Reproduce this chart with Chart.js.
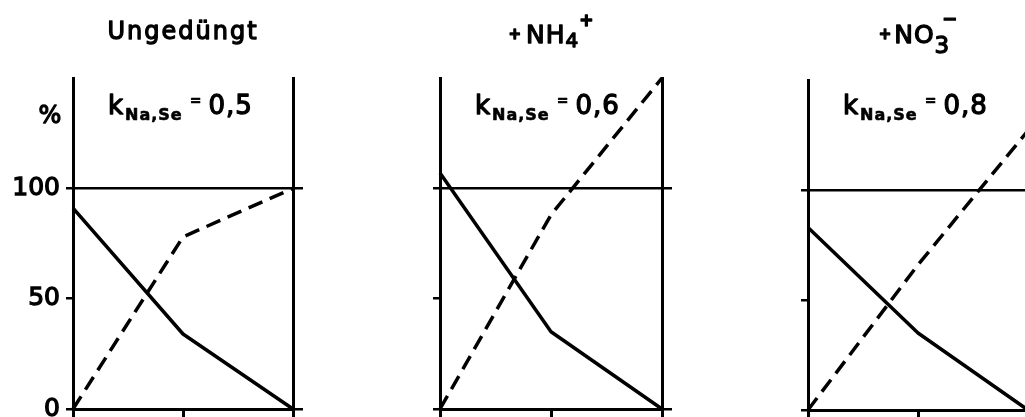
<!DOCTYPE html>
<html>
<head>
<meta charset="utf-8">
<script src="https://cdn.jsdelivr.net/npm/chart.js@4.4.1/dist/chart.umd.min.js"></script>
<style>
  html, body { margin: 0; padding: 0; background: #fff; overflow: hidden; }
  #wrap { position: relative; width: 1025px; height: 417px; overflow: hidden; background: #fff; }
  canvas { position: absolute; top: 0; }
</style>
</head>
<body>
<div id="wrap"></div>
<script>
// ---- data ----
const categories = ['0', '1', '2'];
const panelTitles = ['Ungedüngt', 'NH', 'NO'];
const titlePrefixes = ['', '+', '+'];
const titleSubscripts = ['', '4', '3'];
const titleSuperscripts = ['', '+', '\u2212'];
const kSymbol = 'k';
const kSubscript = 'Na,Se';
const kValues = ['0,5', '0,6', '0,8'];
const solidValues = [
  [91, 34, 0],
  [107, 35, 0],
  [83, 35, 0]
];
const dashedValues = [
  [0, 78, 100],
  [0, 88, 150],
  [0, 66, 127]
];
const yTicks = [0, 50, 100];
const yTickLabels = ['0', '50', '100'];
const yRightTicks = [0, 100];
const yMax = 150;
const yUnit = '%';

// ---- layout ----
const FONT = "'DejaVu Sans', sans-serif";
const canvasH = 430;
const rightW = 18;
const STROKE = 1.3;
const layoutCfg = [
  { left: 0,   leftW: 73, plotW: 220, top: 78, bottom: 409, showLabels: true },
  { left: 420, leftW: 20, plotW: 222, top: 78, bottom: 409, showLabels: false },
  { left: 788, leftW: 20, plotW: 220, top: 80, bottom: 410, showLabels: false }
];

function drawRuns(ctx, runs, x0, baseY, align) {
  let total = 0;
  runs.forEach(r => {
    ctx.font = r.font;
    ctx.letterSpacing = (r.ls || 0) + 'px';
    r.w = ctx.measureText(r.t).width;
    total += (r.gap || 0) + r.w;
  });
  let x = align === 'center' ? x0 - total / 2 : x0;
  ctx.save();
  ctx.fillStyle = '#000';
  ctx.strokeStyle = '#000';
  ctx.lineJoin = 'round';
  ctx.textBaseline = 'alphabetic';
  ctx.textAlign = 'left';
  runs.forEach(r => {
    x += (r.gap || 0);
    ctx.font = r.font;
    ctx.letterSpacing = (r.ls || 0) + 'px';
    ctx.lineWidth = r.sw === undefined ? STROKE : r.sw;
    ctx.fillText(r.t, x, baseY + (r.dy || 0));
    if (ctx.lineWidth > 0) ctx.strokeText(r.t, x, baseY + (r.dy || 0));
    x += r.w;
  });
  ctx.letterSpacing = '0px';
  ctx.restore();
}

const textPlugin = {
  id: 'panelText',
  afterDraw(chart, args, opts) {
    const i = opts.index;
    const ctx = chart.ctx;
    const xs = chart.scales.x;
    const cx = xs.getPixelForValue(1);
    const area = chart.chartArea;
    // title
    let runs;
    if (i === 0) {
      runs = [{ t: panelTitles[i], font: `24px ${FONT}`, ls: 2 }];
      drawRuns(ctx, runs, cx, 39, 'center');
    } else if (i === 1) {
      runs = [
        { t: titlePrefixes[i], font: `bold 15px ${FONT}`, dy: -4 },
        { t: panelTitles[i], font: `25px ${FONT}`, ls: 1, gap: 5 },
        { t: titleSubscripts[i], font: `20px ${FONT}`, dy: 4 },
        { t: titleSuperscripts[i], font: `bold 17px ${FONT}`, dy: -17, gap: 1 }
      ];
      drawRuns(ctx, runs, cx, 43, 'center');
    } else {
      runs = [
        { t: titlePrefixes[i], font: `bold 15px ${FONT}`, dy: -4 },
        { t: panelTitles[i], font: `25px ${FONT}`, ls: 1, gap: 3 },
        { t: titleSubscripts[i], font: `23px ${FONT}`, dy: 10 },
        { t: titleSuperscripts[i], font: `bold 18px ${FONT}`, dy: -18, gap: -7 }
      ];
      drawRuns(ctx, runs, cx, 43, 'center');
    }
    // k label
    const kRuns = [
      { t: kSymbol, font: `26px ${FONT}` },
      { t: kSubscript, font: `bold 16px ${FONT}`, dy: 6, gap: 2, ls: 1, sw: 0.6 },
      { t: '=', font: `bold 14px ${FONT}`, dy: -9, gap: 7, sw: 0.6 },
      { t: kValues[i], font: `26px ${FONT}`, gap: 7, ls: 1 }
    ];
    drawRuns(ctx, kRuns, area.left + 35, 114, 'left');
    // unit
    if (i === 0) {
      drawRuns(ctx, [{ t: yUnit, font: `24px ${FONT}` }], area.left - 23, 123, 'center');
    }
  }
};

layoutCfg.forEach((L, i) => {
  const cv = document.createElement('canvas');
  const w = L.leftW + L.plotW + rightW;
  cv.width = w;
  cv.height = canvasH;
  cv.style.left = L.left + 'px';
  cv.style.width = w + 'px';
  cv.style.height = canvasH + 'px';
  document.getElementById('wrap').appendChild(cv);

  new Chart(cv, {
    type: 'line',
    data: {
      labels: categories,
      datasets: [
        { data: solidValues[i], borderColor: '#000', borderWidth: 3.5, pointRadius: 0, fill: false, tension: 0, clip: false, borderJoinStyle: 'round' },
        { data: dashedValues[i], borderColor: '#000', borderWidth: 3.5, borderDash: [15, 8], pointRadius: 0, fill: false, tension: 0, clip: false }
      ]
    },
    options: {
      responsive: false,
      animation: false,
      events: [],
      layout: { padding: { top: L.top, left: 0, right: 0, bottom: 0 } },
      plugins: {
        legend: { display: false },
        tooltip: { enabled: false },
        panelText: { index: i }
      },
      scales: {
        x: {
          type: 'category',
          offset: false,
          ticks: { display: false },
          grid: { drawOnChartArea: false, drawTicks: true, tickLength: 14, color: '#000', lineWidth: 3, offset: false },
          border: { display: true, color: '#000', width: 3 },
          afterFit(s) { s.height = canvasH - L.bottom; }
        },
        y: {
          position: 'left',
          min: 0,
          max: yMax,
          afterBuildTicks(s) { s.ticks = yTicks.map(v => ({ value: v })); },
          ticks: {
            display: L.showLabels,
            color: '#000',
            padding: 6,
            font: { family: FONT, size: 25 },
            textStrokeColor: '#000',
            textStrokeWidth: STROKE,
            callback: (v) => yTickLabels[yTicks.indexOf(v)]
          },
          grid: {
            color: (c) => (c.tick && c.tick.value === 100) ? '#000' : 'rgba(0,0,0,0)',
            tickColor: '#000',
            lineWidth: 2.5,
            tickLength: 7,
            drawTicks: true
          },
          border: { display: true, color: '#000', width: 3 },
          afterFit(s) { s.width = L.leftW; }
        },
        y2: {
          position: 'right',
          min: 0,
          max: yMax,
          afterBuildTicks(s) { s.ticks = yRightTicks.map(v => ({ value: v })); },
          ticks: { display: false },
          grid: { drawOnChartArea: false, drawTicks: true, tickLength: 10, color: '#000', lineWidth: 2.5 },
          border: { display: true, color: '#000', width: 3 },
          afterFit(s) { s.width = rightW; }
        }
      }
    },
    plugins: [textPlugin]
  });
});
</script>
</body>
</html>
